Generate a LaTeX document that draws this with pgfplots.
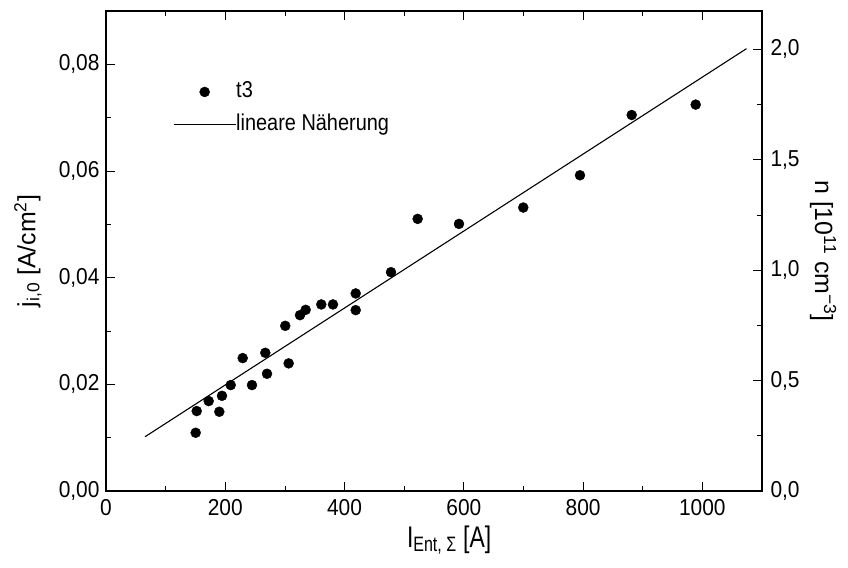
\documentclass[border=0pt]{standalone}
\usepackage{fontspec}
\setmainfont{Liberation Sans}
\usepackage{pgfplots}
\pgfplotsset{compat=1.18}
\pgfplotsset{
  legdot/.style={legend image code/.code={\draw[##1, mark=*] plot coordinates {(31bp,0bp)};}},
  legline/.style={legend image code/.code={\draw[##1] (0bp,0bp) -- (62bp,0bp);}},
  common/.style={
    at={(0,0)}, anchor=south west,
    scale only axis, width=656bp, height=480bp,
    xmin=0, xmax=1100,
    tick align=inside,
    major tick length=9bp, minor tick length=5bp,
    every tick/.style={black, line width=0.8bp},
    axis line style={black, line width=1.1bp},
    tick label style={font=\fontsize{21}{25}\selectfont, yscale=1.1},
    /pgf/number format/assume math mode=true,
    scaled y ticks=false,
  }
}
\begin{document}
\begin{tikzpicture}
\begin{axis}[common,
  ymin=0, ymax=0.09,
  xtick={0,200,400,600,800,1000}, minor xtick={100,300,500,700,900,1100},
  ytick={0,0.02,0.04,0.06,0.08}, minor ytick={0.01,0.03,0.05,0.07},
  ytick pos=left, xtick pos=both,
  xticklabel style={/pgf/number format/set thousands separator={}, yshift=-4bp},
  yticklabel style={/pgf/number format/fixed, /pgf/number format/fixed zerofill, /pgf/number format/precision=2, /pgf/number format/use comma, xshift=-3bp},
  every axis x label/.style={at={(axis description cs:0.523,-0.102)}, anchor=center, font=\fontsize{23}{28}\selectfont, yscale=1.3},
  every axis y label/.style={at={(axis description cs:-0.119,0.5)}, rotate=90, anchor=center, font=\fontsize{25}{30}\selectfont},
  xlabel={I\textsubscript{Ent, Σ} [A]},
  ylabel={j\textsubscript{i,0} [A/cm\textsuperscript{2}]},
  legend style={draw=none, fill=none, inner sep=0pt, anchor=west,
    at={(axis description cs:0.102,0.797)},
    font=\fontsize{20}{24}\selectfont,
    row sep=14bp,
    nodes={inner sep=0pt, text height=15bp, text depth=4bp},
    /tikz/every even column/.append style={column sep=4bp}},
  legend cell align=left,
]
\addplot[only marks, mark=*, mark size=5bp, black, legdot]
  table {
x y
150.4 0.01092
152.1 0.01499
172.2 0.01686
190.0 0.01486
194.5 0.01785
209.1 0.01986
229.2 0.02492
244.8 0.01986
267.1 0.02591
270.0 0.02198
300.6 0.03097
306.3 0.02393
325.3 0.03297
334.8 0.03397
361.0 0.03498
380.6 0.03498
418.7 0.03704
418.7 0.03391
477.9 0.04103
522.6 0.05102
591.9 0.05008
699.7 0.05315
794.8 0.05920
881.5 0.07050
988.8 0.07245
};
\addlegendentry{\scalebox{1}[1.15]{t3}}
\addplot[black, line width=1.1bp, no marks, legline]
  coordinates {(65.4,0.01017) (1074,0.08294)};
\addlegendentry{\scalebox{1}[1.15]{lineare Näherung}}
\end{axis}
\begin{axis}[common,
  ymin=0, ymax=2.1735,
  hide x axis,
  axis y line*=right,
  ytick={0,0.5,1,1.5,2}, minor ytick={0.25,0.75,1.25,1.75},
  yticklabel style={/pgf/number format/fixed, /pgf/number format/fixed zerofill, /pgf/number format/precision=1, /pgf/number format/use comma, xshift=5bp},
  every axis y label/.style={at={(axis description cs:1.093,0.5)}, rotate=-90, anchor=center, font=\fontsize{25}{30}\selectfont},
  ylabel={n [10\textsuperscript{11} cm\textsuperscript{−3}]},
]
\end{axis}
\pgfresetboundingbox
\path[use as bounding box] (-106bp,-77bp) rectangle (742bp,491bp);
\end{tikzpicture}
\end{document}
